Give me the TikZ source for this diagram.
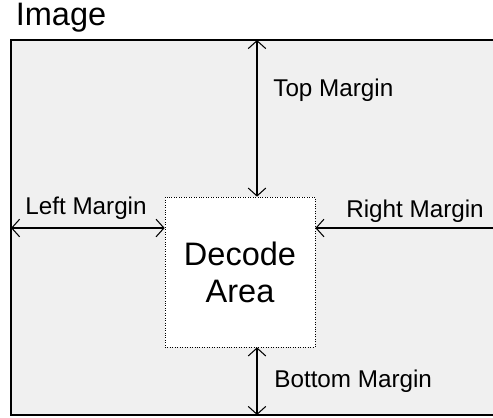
\documentclass[tikz,border=0pt]{standalone}
\usepackage{fontspec}
\setmainfont{Liberation Sans}
\usepackage{xcolor}
\definecolor{imageGray}{HTML}{F0F0F0}
\usetikzlibrary{arrows.meta, positioning}

\begin{document}
\begin{tikzpicture}[
		x=0.02cm, y=-0.02cm,
		area/.style={
			draw,
			densely dotted,
			fill=white,
			minimum width=3cm,
			minimum height=3cm,
			align=center,
			font=\fontsize{18.5}{21}\selectfont
		},
		label/.style={font=\fontsize{13.8}{16}\selectfont, inner sep=0pt},
		arrow/.style={{Straight Barb[length=4.5pt,width=10pt]}-{Straight Barb[length=4.5pt,width=10pt]}, line width=0.6pt}
		]
		
		\useasboundingbox (0,0) rectangle (493,417);
		
		% image frame
		\fill[imageGray] (11,40) rectangle (493,415);
		\draw[line width=1.6pt] (493,40) -- (11,40) -- (11,415) -- (493,415);
		\node[font=\fontsize{18.5}{21}\selectfont, inner sep=0pt] (image) at (61,18) {Image};
		
		\node[area] (decode) at (240,272) {Decode\\Area};
		
		\coordinate (topend) at (257,40);
		\coordinate (bottomend) at (257,415);
		\coordinate (leftend) at (11,228);
		\coordinate (rightend) at (493,228);
		
		\draw[arrow] (topend) -- (topend |- decode.north);
		\draw[arrow] (bottomend) -- (bottomend |- decode.south);
		\draw[arrow] (leftend) -- (leftend -| decode.west);
		\draw[arrow, {Straight Barb[length=4.5pt,width=10pt]}-] (rightend -| decode.east) -- (rightend);
		
		\node[label, anchor=west] (topm) at (273,90) {Top Margin};
		\node[label, anchor=west] (bottomm) at (274,381) {Bottom Margin};
		\node[label] (leftm) at (86,208) {Left Margin};
		\node[label] (rightm) at (415,211) {Right Margin};
		
	\end{tikzpicture}
\end{document}
